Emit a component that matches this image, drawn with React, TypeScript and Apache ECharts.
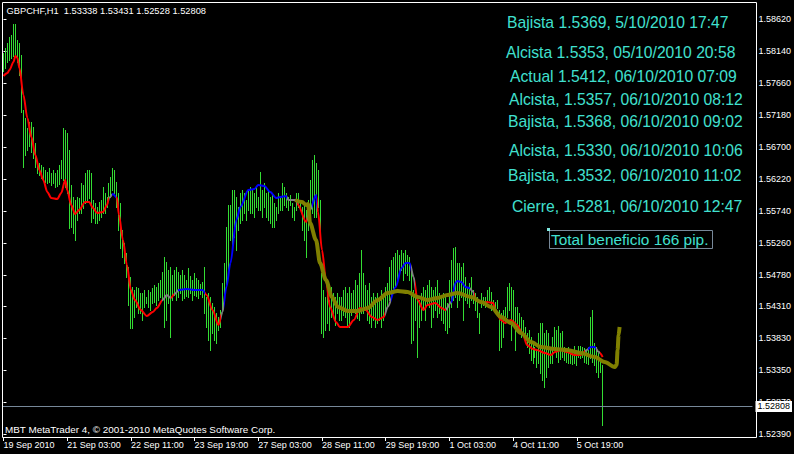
import React, { useEffect, useRef } from "react";
import * as echarts from "echarts";

const symbolName = "GBPCHF";
const period = "H1";
const lastBarOHLC = [1.53338, 1.53431, 1.52528, 1.52808];
const lastClose = 1.52808;

const xTickBars = [0, 32, 64, 96, 128, 160, 192, 224, 256, 288];
const xTickLabels = [
  "19 Sep 2010", "21 Sep 03:00", "22 Sep 11:00", "23 Sep 19:00", "27 Sep 03:00",
  "28 Sep 11:00", "29 Sep 19:00", "1 Oct 03:00", "4 Oct 11:00", "5 Oct 19:00",
];
const yTickValues = [
  1.5862, 1.5814, 1.5766, 1.5718, 1.567, 1.5622, 1.5574,
  1.5526, 1.5478, 1.5431, 1.5383, 1.5335, 1.5287, 1.5239,
];

const highs = [
  1.5811, 1.58185, 1.5826, 1.5835, 1.5838, 1.58545, 1.58545, 1.58305, 1.5826, 1.5808,
  1.57255, 1.57135, 1.56985, 1.57075, 1.57075, 1.57, 1.5676, 1.56475, 1.5646, 1.5643,
  1.564, 1.56355, 1.56325, 1.56385, 1.5631, 1.56355, 1.5631, 1.56355, 1.5643, 1.56505,
  1.56985, 1.56955, 1.5691, 1.56655, 1.5613, 1.5595, 1.55905, 1.5595, 1.55935, 1.5616,
  1.5613, 1.5631, 1.56355, 1.56355, 1.5631, 1.55905, 1.5586, 1.558, 1.55875, 1.55905,
  1.561, 1.5601, 1.5595, 1.5616, 1.5625, 1.56385, 1.56355, 1.56175, 1.5601, 1.5586,
  1.55455, 1.5526, 1.5511, 1.549, 1.5475, 1.546, 1.54555, 1.546, 1.54585, 1.5451,
  1.5451, 1.54555, 1.5445, 1.54555, 1.54525, 1.54585, 1.5463, 1.546, 1.5466, 1.54705,
  1.54825, 1.5505, 1.54975, 1.54855, 1.549, 1.5478, 1.54855, 1.549, 1.54825, 1.5478,
  1.54855, 1.5478, 1.54705, 1.54885, 1.54765, 1.54705, 1.5481, 1.54735, 1.54705, 1.54645,
  1.54675, 1.549, 1.5445, 1.5451, 1.5445, 1.5436, 1.543, 1.5421, 1.5415, 1.54255,
  1.5466, 1.5496, 1.555, 1.5583, 1.5583, 1.56055, 1.56055, 1.5595, 1.558, 1.5601,
  1.56055, 1.5601, 1.55905, 1.56055, 1.561, 1.56055, 1.5601, 1.561, 1.5595, 1.56325,
  1.56055, 1.5616, 1.5601, 1.56055, 1.5595, 1.5601, 1.5586, 1.558, 1.5601, 1.5595,
  1.5616, 1.561, 1.5601, 1.5595, 1.5598, 1.5586, 1.558, 1.5601, 1.5601, 1.55905,
  1.558, 1.5586, 1.55755, 1.55905, 1.56205, 1.56505, 1.5658, 1.5646, 1.56355, 1.55905,
  1.5481, 1.54555, 1.5445, 1.54555, 1.54405, 1.546, 1.5451, 1.5445, 1.5451, 1.5445,
  1.5445, 1.54555, 1.546, 1.5451, 1.546, 1.5451, 1.54555, 1.54705, 1.5463, 1.5481,
  1.55155, 1.5481, 1.5463, 1.54555, 1.5466, 1.5445, 1.5451, 1.5445, 1.5451, 1.5445,
  1.54555, 1.5445, 1.546, 1.5466, 1.549, 1.55005, 1.5505, 1.5511, 1.55155, 1.5508,
  1.55155, 1.5511, 1.55155, 1.5508, 1.5505, 1.54855, 1.54555, 1.5451, 1.5445, 1.54405,
  1.5451, 1.546, 1.54555, 1.5463, 1.54705, 1.546, 1.54555, 1.546, 1.54705, 1.5451,
  1.5445, 1.5451, 1.5445, 1.5436, 1.54705, 1.55005, 1.55185, 1.552, 1.5496, 1.5496,
  1.549, 1.5496, 1.5475, 1.546, 1.5466, 1.5475, 1.54555, 1.5451, 1.5445, 1.5421,
  1.5451, 1.5445, 1.5445, 1.54555, 1.546, 1.54525, 1.54405, 1.54375, 1.54405, 1.54255,
  1.5421, 1.54255, 1.543, 1.546, 1.5466, 1.546, 1.54555, 1.543, 1.543, 1.5421,
  1.5415, 1.54105, 1.54, 1.5391, 1.53955, 1.5385, 1.5376, 1.537, 1.53655, 1.5391,
  1.5406, 1.5406, 1.5391, 1.53955, 1.5391, 1.537, 1.5385, 1.54, 1.53955, 1.54015,
  1.5391, 1.5394, 1.537, 1.53655, 1.537, 1.53655, 1.53655, 1.53715, 1.53655, 1.53715,
  1.53715, 1.537, 1.53685, 1.53655, 1.537, 1.5415, 1.54255, 1.5376, 1.537, 1.5361,
  1.53505, 1.53431,
];

const lows = [
  1.5784, 1.57885, 1.57975, 1.58005, 1.58035, 1.58065, 1.5808, 1.57975, 1.5778, 1.57225,
  1.564, 1.5658, 1.56655, 1.56715, 1.56625, 1.56535, 1.564, 1.5631, 1.5628, 1.56235,
  1.56205, 1.56175, 1.5616, 1.56175, 1.5613, 1.5616, 1.561, 1.56115, 1.56145, 1.56235,
  1.56205, 1.561, 1.5601, 1.55485, 1.555, 1.5541, 1.55305, 1.55605, 1.5571, 1.5571,
  1.55785, 1.5586, 1.55905, 1.55935, 1.55575, 1.55635, 1.5556, 1.5556, 1.55605, 1.5565,
  1.5571, 1.5571, 1.558, 1.55905, 1.5595, 1.56055, 1.5601, 1.558, 1.55455, 1.55185,
  1.5505, 1.5496, 1.5475, 1.5433, 1.53985, 1.53985, 1.5415, 1.543, 1.5421, 1.5421,
  1.54105, 1.543, 1.5436, 1.543, 1.54255, 1.5436, 1.54375, 1.5433, 1.54405, 1.5445,
  1.54405, 1.54, 1.54105, 1.5436, 1.5385, 1.54405, 1.5448, 1.54405, 1.5445, 1.5451,
  1.54405, 1.54435, 1.54465, 1.5445, 1.5451, 1.54405, 1.5448, 1.54465, 1.54435, 1.54495,
  1.5445, 1.5421, 1.54, 1.53805, 1.53655, 1.5391, 1.53805, 1.5376, 1.53955, 1.54,
  1.54255, 1.54405, 1.546, 1.5475, 1.55305, 1.55155, 1.5535, 1.55155, 1.55455, 1.5556,
  1.55605, 1.5571, 1.55605, 1.55755, 1.5571, 1.5571, 1.5565, 1.558, 1.55755, 1.55755,
  1.5565, 1.558, 1.5565, 1.55605, 1.5556, 1.555, 1.555, 1.55605, 1.5571, 1.55755,
  1.55755, 1.5583, 1.558, 1.55755, 1.5583, 1.5565, 1.55605, 1.55755, 1.558, 1.558,
  1.55455, 1.55305, 1.5505, 1.55455, 1.55575, 1.5571, 1.5565, 1.5565, 1.558, 1.5541,
  1.5391, 1.5385, 1.53955, 1.5406, 1.53955, 1.5415, 1.5421, 1.5403, 1.5421, 1.54105,
  1.54105, 1.5418, 1.5415, 1.5403, 1.54, 1.5418, 1.54255, 1.5421, 1.54135, 1.54105,
  1.5421, 1.5421, 1.54255, 1.54105, 1.5406, 1.54, 1.54105, 1.54, 1.5406, 1.54105,
  1.54, 1.54105, 1.5421, 1.543, 1.54405, 1.5445, 1.54555, 1.546, 1.54705, 1.5478,
  1.54855, 1.54705, 1.5481, 1.5478, 1.54705, 1.5376, 1.53805, 1.54105, 1.5355, 1.54,
  1.54105, 1.54255, 1.54105, 1.5433, 1.543, 1.54, 1.5415, 1.54255, 1.5415, 1.5421,
  1.54105, 1.5406, 1.53955, 1.5391, 1.54, 1.543, 1.54405, 1.5445, 1.543, 1.54405,
  1.5445, 1.54105, 1.54405, 1.5436, 1.543, 1.54405, 1.5436, 1.54255, 1.5415, 1.5391,
  1.543, 1.5433, 1.543, 1.54405, 1.54405, 1.54255, 1.543, 1.5421, 1.54285, 1.53655,
  1.537, 1.5385, 1.5406, 1.5415, 1.54255, 1.53805, 1.54105, 1.53655, 1.53955, 1.54,
  1.5385, 1.5391, 1.53805, 1.537, 1.5361, 1.53505, 1.5346, 1.5355, 1.534, 1.5346,
  1.5331, 1.53205, 1.531, 1.5325, 1.534, 1.5346, 1.5346, 1.53655, 1.5355, 1.53475,
  1.5352, 1.5355, 1.53505, 1.53475, 1.5346, 1.5346, 1.53445, 1.5346, 1.5343, 1.5355,
  1.53535, 1.5355, 1.53475, 1.5346, 1.53445, 1.53535, 1.53475, 1.5343, 1.53325, 1.5325,
  1.53325, 1.52528,
];

// smoothed trend indicator: [bar index, price]
const maPoints = [
  [0, 1.57765], [2, 1.5781], [3, 1.57855], [5, 1.57975], [6, 1.58065], [7, 1.58035], [8, 1.57885],
  [10, 1.5748], [12, 1.57135], [14, 1.5685], [16, 1.5658], [18, 1.56355], [20, 1.56205], [22, 1.56025],
  [24, 1.55935], [27, 1.5592], [29, 1.5601], [31, 1.56205], [32, 1.56055], [34, 1.5583], [36, 1.55695],
  [38, 1.55755], [41, 1.55875], [43, 1.55875], [45, 1.55785], [47, 1.5571], [50, 1.55725], [52, 1.5583],
  [53, 1.55935], [55, 1.55995], [57, 1.55935], [58, 1.5568], [60, 1.55305], [62, 1.5493], [64, 1.54555],
  [66, 1.54405], [69, 1.54255], [72, 1.54165], [75, 1.54225], [77, 1.54285], [80, 1.54405], [82, 1.5448],
  [84, 1.54435], [86, 1.54495], [88, 1.54555], [92, 1.5457], [96, 1.54555], [100, 1.54555], [102, 1.5448],
  [105, 1.54255], [108, 1.5403], [110, 1.54225], [112, 1.546], [114, 1.5496], [117, 1.55605], [119, 1.558],
  [123, 1.56055], [126, 1.5607], [128, 1.5613], [131, 1.56115], [134, 1.56025], [137, 1.55935], [139, 1.5595],
  [142, 1.55965], [143, 1.55905], [147, 1.55905], [148, 1.5583], [152, 1.55575], [154, 1.55755], [157, 1.5598],
  [158, 1.55725], [160, 1.55155], [162, 1.54705], [164, 1.543], [167, 1.54075], [169, 1.54], [173, 1.54],
  [176, 1.54105], [179, 1.54285], [182, 1.54255], [185, 1.5415], [188, 1.54105], [191, 1.5415], [193, 1.543],
  [197, 1.546], [200, 1.54885], [202, 1.5496], [204, 1.5496], [206, 1.5475], [208, 1.54405], [211, 1.54255],
  [213, 1.5433], [217, 1.5436], [220, 1.54285], [222, 1.54255], [225, 1.54375], [227, 1.5466], [228, 1.5469],
  [230, 1.54675], [232, 1.546], [234, 1.54585], [236, 1.54525], [237, 1.54405], [240, 1.5436], [243, 1.54375],
  [246, 1.5436], [247, 1.54255], [250, 1.54105], [252, 1.5406], [255, 1.54105], [258, 1.5403], [261, 1.5388],
  [263, 1.5373], [266, 1.5367], [268, 1.53655], [272, 1.5361], [275, 1.5358], [277, 1.53625], [280, 1.53655],
  [283, 1.53625], [287, 1.5358], [290, 1.5358], [293, 1.53655], [295, 1.537], [297, 1.537], [299, 1.53625],
  [301, 1.5355],
];

// trend state of the indicator by bar range
const maTrend = [
  [0, 53, "down"], [53, 54.5, "flat"], [54.5, 56.5, "up"], [56.5, 79.5, "down"],
  [79.5, 84, "flat"], [84, 85.5, "down"], [85.5, 87.5, "flat"], [87.5, 101, "up"],
  [101, 109.5, "down"], [109.5, 111, "flat"], [111, 142.5, "up"], [142.5, 147.5, "flat"],
  [147.5, 152.5, "down"], [152.5, 155, "flat"], [155, 157.5, "up"], [157.5, 191.5, "down"],
  [191.5, 194.5, "flat"], [194.5, 204.5, "up"], [204.5, 206.5, "flat"], [206.5, 222.5, "down"],
  [222.5, 225, "flat"], [225, 234.5, "up"], [234.5, 236.5, "flat"], [236.5, 292, "down"],
  [292, 293.5, "flat"], [293.5, 297.5, "up"], [297.5, 299.5, "flat"], [299.5, 310, "down"],
];

// slow projection line: [bar index, price]
const projectionPoints = [
  [146.5, 1.55905], [150, 1.55875], [152, 1.5583], [153, 1.55845], [154, 1.5556], [157, 1.55305],
  [159, 1.5496], [162, 1.54705], [165, 1.5445], [168, 1.543], [173, 1.5424], [178, 1.5424],
  [183, 1.54285], [188, 1.54405], [193, 1.5451], [198, 1.5454], [203, 1.54525], [208, 1.5445],
  [213, 1.54405], [218, 1.54435], [223, 1.5448], [228, 1.5451], [235, 1.5445], [240, 1.54375],
  [245, 1.543], [250, 1.5415], [255, 1.5406], [260, 1.5391], [265, 1.53775], [270, 1.537],
  [277, 1.5367], [283, 1.53655], [290, 1.5361], [297, 1.5355], [302, 1.53475], [307, 1.534],
  [308, 1.5343], [308.5, 1.53655], [309, 1.5388], [309.5, 1.54],
];

const annotations = [
  "Bajista 1.5369, 5/10/2010 17:47",
  "Alcista 1.5353, 05/10/2010 20:58",
  "Actual 1.5412, 06/10/2010 07:09",
  "Alcista, 1.5357, 06/10/2010 08:12",
  "Bajista, 1.5368, 06/10/2010 09:02",
  "Alcista, 1.5330, 06/10/2010 10:06",
  "Bajista, 1.3532, 06/10/2010 11:02",
  "Cierre, 1.5281, 06/10/2010 12:47",
];
const annotationX = [507, 506, 510, 509, 508, 509, 508, 512];
const annotationY = [22.5, 52, 76.5, 99, 121, 150.5, 175, 206.5];
const profitLabel = "Total beneficio 166 pip.";
const footerText = "MBT MetaTrader 4, \u00a9 2001-2010 MetaQuotes Software Corp.";

const FONT = "Liberation Sans";
const BAR_COLOR = "#33DD33";
const TEXT_CYAN = "#40E0D0";
const TREND_COLORS: Record<string, string> = { down: "#FF0000", up: "#0000FF", flat: "#808080" };

export default function App() {
  const ref = useRef<HTMLDivElement>(null);
  useEffect(() => {
    document.body.style.margin = "0";
    document.body.style.background = "#000";
    const chart = echarts.init(ref.current!, null, { renderer: "svg" });
    const barData = highs.map((h, i) => [i, h, lows[i]]);
    const header =
      `${symbolName},${period}\u00a0 ` + lastBarOHLC.map((v) => v.toFixed(5)).join(" ");

    const graphics: any[] = [
      {
        type: "rect",
        silent: true,
        z: 100,
        shape: { x: 2.5, y: 2.5, width: 754, height: 435 },
        style: { fill: "none", stroke: "#ffffff", lineWidth: 1 },
      },
      {
        type: "text",
        x: 6.5,
        y: 10.7,
        z: 100,
        style: { text: header, fill: "#ffffff", fontSize: 9.3, fontFamily: FONT, verticalAlign: "middle" },
      },
      {
        type: "text",
        x: 5,
        y: 429,
        z: 100,
        style: { text: footerText, fill: "#ffffff", fontSize: 9.9, fontFamily: FONT, verticalAlign: "middle" },
      },
      ...annotations.map((t, k) => ({
        type: "text",
        x: annotationX[k],
        y: annotationY[k],
        z: 100,
        style: { text: t, fill: TEXT_CYAN, fontSize: 15.7, fontFamily: FONT, verticalAlign: "middle" },
      })),
      {
        type: "rect",
        z: 100,
        shape: { x: 549.5, y: 230.5, width: 163, height: 18 },
        style: { fill: "none", stroke: "#778899", lineWidth: 1 },
      },
      {
        type: "rect",
        z: 101,
        shape: { x: 547, y: 228, width: 3, height: 3 },
        style: { fill: "#7FE8E0" },
      },
      {
        type: "text",
        x: 551,
        y: 239.5,
        z: 100,
        style: { text: profitLabel, fill: TEXT_CYAN, fontSize: 15.4, fontFamily: FONT, verticalAlign: "middle" },
      },
    ];

    const option: any = {
      animation: false,
      backgroundColor: "#000000",
      textStyle: { fontFamily: FONT },
      grid: { left: 2, top: 2, width: 754, height: 435, show: false },
      xAxis: {
        type: "value",
        min: -0.75,
        max: 376.25,
        axisLine: { show: false },
        splitLine: { show: false },
        axisTick: { show: true, length: 4, lineStyle: { color: "#ffffff" }, customValues: xTickBars },
        axisLabel: {
          customValues: xTickBars,
          formatter: (v: number) => {
            const k = xTickBars.indexOf(Math.round(v));
            return k >= 0 ? xTickLabels[k] : "";
          },
          color: "#ffffff",
          fontSize: 9,
          fontFamily: FONT,
          align: "left",
          margin: 3,
        },
      },
      yAxis: {
        type: "value",
        position: "right",
        min: 1.5235,
        max: 1.58875,
        axisLine: { show: false },
        splitLine: { show: false },
        axisTick: { show: true, length: 3, lineStyle: { color: "#ffffff" }, customValues: yTickValues },
        axisLabel: {
          customValues: yTickValues,
          formatter: (v: number) => v.toFixed(5),
          color: "#ffffff",
          fontSize: 9,
          fontFamily: FONT,
          margin: 6,
        },
      },
      visualMap: {
        type: "piecewise",
        show: false,
        dimension: 0,
        seriesIndex: 1,
        pieces: maTrend.map(([a, b, s]) => ({ gte: a, lt: b, color: TREND_COLORS[s as string] })),
        outOfRange: { color: TREND_COLORS.flat },
      },
      series: [
        {
          type: "custom",
          name: "bars",
          silent: true,
          clip: true,
          z: 2,
          data: barData,
          encode: { x: 0, y: [1, 2] },
          renderItem: (params: any, api: any) => {
            const i = api.value(0);
            const top = api.coord([i, api.value(1)]);
            const bottom = api.coord([i, api.value(2)]);
            const x = Math.floor(top[0] + 0.001) + 0.5;
            return {
              type: "line",
              shape: { x1: x, y1: Math.round(top[1]), x2: x, y2: Math.round(bottom[1]) + 1 },
              style: { stroke: BAR_COLOR, lineWidth: 1 },
            };
          },
        },
        {
          type: "line",
          name: "trend",
          silent: true,
          z: 3,
          data: maPoints,
          symbol: "none",
          showSymbol: false,
          smooth: 0.3,
          smoothMonotone: "x",
          lineStyle: { width: 2 },
        },
        {
          type: "line",
          name: "projection",
          silent: true,
          z: 4,
          data: projectionPoints,
          symbol: "none",
          showSymbol: false,
          smooth: 0.3,
          smoothMonotone: "x",
          lineStyle: { width: 4, color: "#808000" },
          itemStyle: { color: "#808000" },
          markLine: {
            silent: true,
            precision: 5,
            symbol: ["none", "none"],
            data: [{ yAxis: lastClose }],
            lineStyle: { color: "#778899", width: 1, type: "solid" },
            label: {
              show: true,
              position: "end",
              distance: 3,
              formatter: lastClose.toFixed(5),
              color: "#000000",
              backgroundColor: "#ffffff",
              fontSize: 9,
              fontFamily: FONT,
              padding: [1, 2, 1, 2],
            },
            emphasis: { disabled: true },
          },
        },
      ],
      graphic: graphics,
    };
    chart.setOption(option);
    return () => chart.dispose();
  }, []);
  return <div ref={ref} style={{ width: 794, height: 454, background: "#000" }} />;
}
